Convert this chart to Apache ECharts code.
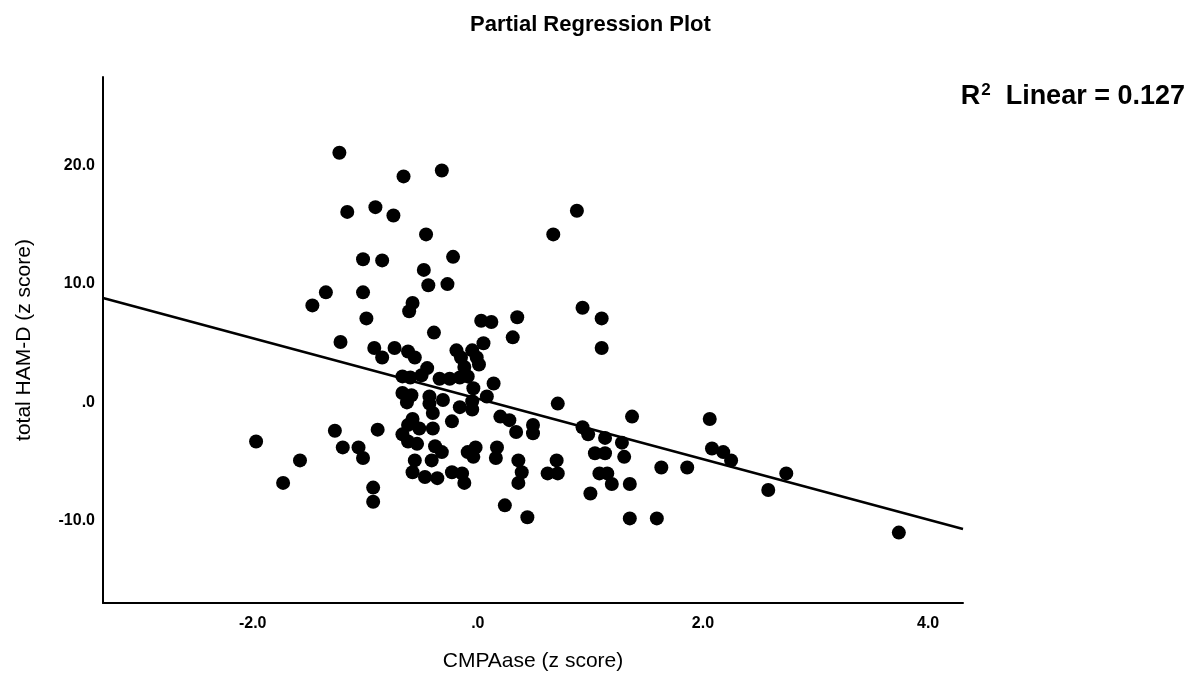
<!DOCTYPE html>
<html>
<head>
<meta charset="utf-8">
<title>Partial Regression Plot</title>
<script src="https://cdn.jsdelivr.net/npm/echarts@6/dist/echarts.min.js"></script>
<style>
  html, body { margin: 0; padding: 0; background: #fff; }
  #chart { width: 1198px; height: 682px; }
</style>
</head>
<body>
<div id="chart"></div>
<script>
// CMPAase (z score) 残差
const cmpaase = [
  -1.23, -0.32, -0.66, -1.16, -0.91, -0.75, 0.88, -0.46, 0.67, -1.02,
  -0.85, -0.22, -0.48, -0.44, -0.27, -1.35, -1.02, -1.47, -0.58, -0.61,
  0.93, 1.10, -0.99, 0.35, 0.03, 0.12, -0.39, -1.22, 0.31, 0.05,
  1.10, -0.92, -0.85, -0.74, -0.62, -0.56, -0.19, -0.15, -0.12, -0.05,
  -0.01, 0.01, -0.67, -0.60, -0.45, -0.50, -0.34, -0.25, -0.16, -0.09,
  -0.04, 0.08, 0.14, -0.67, -0.59, -0.63, -0.43, -0.43, -0.31, -0.40,
  -0.16, -0.05, -0.05, 0.71, -0.58, -0.62, -0.52, -0.40, -0.23, 0.20,
  0.28, 0.34, 0.49, 0.49, 0.93, 0.98, 1.13, 1.28, 1.37, 2.06,
  -0.67, -0.62, -0.54, -0.38, -0.32, -0.02, -0.04, 0.17, 0.16, -0.09,
  -0.56, -0.41, 0.36, 0.39, 0.36, 0.70, 0.62, 0.71, 1.04, 1.13,
  1.30, 2.08, 2.18, 2.25, 1.63, 1.86, 1.08, 1.15, 1.19, 1.35,
  1.00, 2.74, 2.58, 1.35, 1.59, 3.74, -0.58, -0.47, -0.36, -0.23,
  -0.14, -0.12, 0.24, 0.44, -1.97, -1.58, -1.73, -1.27, -1.20, -1.06,
  -1.02, -0.93, -0.93, -0.89
]

// total HAM-D (z score) 残差
const hamd = [
  21.1, 19.6, 19.1, 16.1, 16.5, 15.8, 16.2, 14.2, 14.2, 12.1,
  12.0, 12.3, 11.2, 9.9, 10.0, 9.3, 9.3, 8.2, 8.4, 7.7,
  8.0, 7.1, 7.1, 7.2, 6.9, 6.8, 5.9, 5.1, 5.5, 5.0,
  4.6, 4.6, 3.8, 4.6, 4.3, 3.8, 4.4, 3.8, 3.0, 4.4,
  3.8, 3.2, 2.2, 2.1, 2.9, 2.3, 2.0, 2.0, 2.1, 2.2,
  1.2, 0.5, 1.6, 0.8, 0.6, 0.0, 0.5, -0.1, 0.2, -0.9,
  -0.4, 0.1, -0.6, -0.1, -1.4, -1.9, -2.2, -2.2, -1.6, -1.2,
  -1.5, -2.5, -1.9, -2.6, -2.1, -2.7, -3.0, -3.4, -1.2, -1.4,
  -2.7, -3.3, -3.5, -3.7, -4.2, -3.8, -4.6, -3.8, -4.7, -4.2,
  -4.9, -4.9, -4.9, -5.9, -6.8, -4.9, -6.0, -6.0, -4.3, -4.3,
  -4.6, -3.9, -4.2, -4.9, -5.5, -5.5, -6.0, -6.0, -6.9, -6.9,
  -7.7, -6.0, -7.4, -9.8, -9.8, -11.0, -5.9, -6.3, -6.4, -5.9,
  -6.0, -6.8, -8.7, -9.7, -3.3, -4.9, -6.8, -2.4, -3.8, -3.8,
  -4.7, -7.2, -8.4, -2.3
]

// 拟合线两端
const fitX = [-3.33, 4.31]
const fitY = [8.83, -10.69]

const xTicks = [-2, 0, 2, 4]
const yTicks = [-10, 0, 10, 20]

const font = 'Liberation Sans, Arial, sans-serif'

function fmt(v) {
  return v.toFixed(1).replace(/^(-?)0\./, '$1.')
}

const chart = echarts.init(document.getElementById('chart'))

const option = {
  animation: false,
  backgroundColor: '#fff',
  title: {
    text: 'Partial Regression Plot',
    left: 465,
    top: 9,
    textStyle: { fontFamily: font, fontSize: 22, fontWeight: 'bold', color: '#000' }
  },
  grid: { left: 103, right: 235, top: 77, bottom: 79 },
  xAxis: {
    type: 'value',
    min: -3.33,
    max: 4.31,
    name: 'CMPAase (z score)',
    nameLocation: 'middle',
    nameGap: 48,
    nameTextStyle: { fontFamily: font, fontSize: 21, color: '#000' },
    axisLine: { onZero: false, lineStyle: { color: '#000', width: 2 } },
    axisTick: { show: false },
    splitLine: { show: false },
    axisLabel: {
      customValues: xTicks,
      formatter: fmt,
      margin: 13,
      color: '#000',
      fontFamily: font,
      fontSize: 16,
      fontWeight: 'bold'
    }
  },
  yAxis: {
    type: 'value',
    min: -16.95,
    max: 27.5,
    name: 'total HAM-D (z score)',
    nameLocation: 'middle',
    nameGap: 68,
    nameTextStyle: { fontFamily: font, fontSize: 21, color: '#000' },
    axisLine: { show: true, onZero: false, lineStyle: { color: '#000', width: 2 } },
    axisTick: { show: false },
    splitLine: { show: false },
    axisLabel: {
      customValues: yTicks,
      formatter: fmt,
      margin: 8,
      color: '#000',
      fontFamily: font,
      fontSize: 16,
      fontWeight: 'bold'
    }
  },
  graphic: [
    {
      type: 'text',
      right: 13,
      top: 82,
      style: {
        text: '{b|R}{s|2}{b|  Linear = 0.127}',
        rich: {
          b: { fontFamily: font, fontSize: 27, fontWeight: 'bold', fill: '#000', verticalAlign: 'bottom' },
          s: { fontFamily: font, fontSize: 17, fontWeight: 'bold', fill: '#000', verticalAlign: 'top', padding: [0, 0, 11, 1] }
        }
      }
    }
  ],
  series: [
    {
      name: 'points',
      type: 'scatter',
      symbolSize: 14,
      itemStyle: { color: '#000', opacity: 1 },
      data: cmpaase.map((x, i) => [x, hamd[i]]),
      z: 2
    },
    {
      name: 'fit',
      type: 'line',
      symbol: 'none',
      lineStyle: { color: '#000', width: 2.5 },
      data: fitX.map((x, i) => [x, fitY[i]]),
      z: 3
    }
  ]
}

chart.setOption(option)
</script>
</body>
</html>
